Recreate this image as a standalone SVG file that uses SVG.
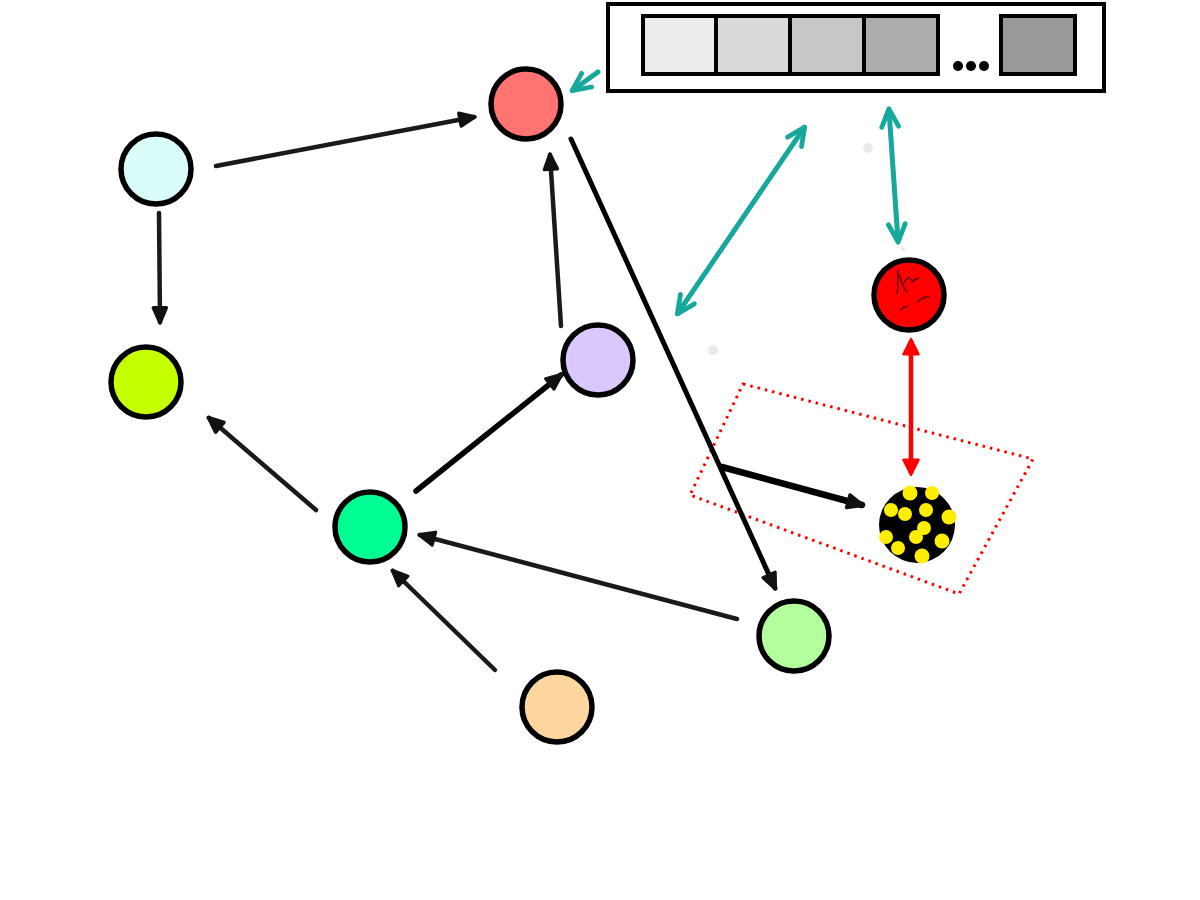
<svg xmlns="http://www.w3.org/2000/svg" width="1200" height="900" viewBox="0 0 1200 900">
<style>
.node{stroke:#000;stroke-width:5.5}
.e{stroke:#1a1a1a;stroke-width:4.5;fill:none;stroke-linecap:round}
.t{stroke:#16a89a;stroke-width:5;fill:none;stroke-linecap:round}
.r{stroke:#ff0000;stroke-width:4.5;fill:none}
.cell{stroke:#000;stroke-width:4}
.yd{fill:#ffee00}
</style>
<defs>
<marker id="ab" markerUnits="userSpaceOnUse" markerWidth="22" markerHeight="22" viewBox="0 0 20 20" refX="16" refY="10" orient="auto-start-reverse">
<path d="M3,4 L17,10 L3,16 Z" fill="#111" stroke="#111" stroke-width="3" stroke-linejoin="round"/>
</marker>
<marker id="at" markerUnits="userSpaceOnUse" markerWidth="24" markerHeight="24" viewBox="0 0 20 20" refX="17" refY="10" orient="auto-start-reverse">
<path d="M3,3 L18,10 L3,17" fill="none" stroke="#16a89a" stroke-width="4" stroke-linecap="round" stroke-linejoin="round"/>
</marker>
<marker id="ar" markerUnits="userSpaceOnUse" markerWidth="22" markerHeight="22" viewBox="0 0 20 20" refX="16" refY="10" orient="auto-start-reverse">
<path d="M3,3 L17,10 L3,17 Z" fill="#ff0000" stroke="#ff0000" stroke-width="2" stroke-linejoin="round"/>
</marker>
</defs>
<rect width="1200" height="900" fill="#fff"/>
<g id="buffer">
<rect x="608" y="4" width="496" height="87" fill="#fff" stroke="#000" stroke-width="4"/>
<rect class="cell" x="643" y="16" width="73" height="58" fill="#ececec"/>
<rect class="cell" x="716" y="16" width="74" height="58" fill="#dadada"/>
<rect class="cell" x="790" y="16" width="74" height="58" fill="#c8c8c8"/>
<rect class="cell" x="864" y="16" width="74" height="58" fill="#adadad"/>
<rect class="cell" x="1001" y="16" width="74" height="58" fill="#999"/>
<circle cx="958" cy="66" r="5"/>
<circle cx="971" cy="66" r="5"/>
<circle cx="984" cy="66" r="5"/>
</g>
<g id="group-box">
<polygon points="743,384 1033,459 959,594 690,495" fill="none" stroke="#ff0000" stroke-width="3" stroke-dasharray="2.5,5"/>
</g>
<g id="faint">
<circle cx="868" cy="148" r="5" fill="#eaeaea"/>
<circle cx="713" cy="350" r="5" fill="#eaeaea"/>
<circle cx="903" cy="249" r="2" fill="#d6f0ee"/>
</g>
<g id="connectors">
<line class="e" x1="216" y1="166" x2="474" y2="117" marker-end="url(#ab)"/>
<line class="e" x1="159" y1="213" x2="160" y2="322" marker-end="url(#ab)"/>
<line class="e" x1="561" y1="326" x2="550" y2="155" marker-end="url(#ab)"/>
<line class="e" x1="571" y1="139" x2="775" y2="588" marker-end="url(#ab)" style="stroke:#000;stroke-width:5"/>
<line class="e" x1="416" y1="491" x2="561" y2="375" marker-end="url(#ab)" style="stroke:#000;stroke-width:5.5"/>
<line class="e" x1="316" y1="510" x2="209" y2="418" marker-end="url(#ab)"/>
<line class="e" x1="737" y1="619" x2="420" y2="535" marker-end="url(#ab)"/>
<line class="e" x1="495" y1="670" x2="393" y2="571" marker-end="url(#ab)"/>
<line class="e" x1="722" y1="467" x2="862" y2="505" marker-end="url(#ab)" style="stroke:#000;stroke-width:6.5"/>
<line class="t" x1="598" y1="72" x2="573" y2="90" marker-end="url(#at)"/>
<line class="t" x1="678" y1="313" x2="804" y2="128" marker-start="url(#at)" marker-end="url(#at)"/>
<line class="t" x1="889" y1="110" x2="898" y2="241" marker-start="url(#at)" marker-end="url(#at)"/>
<line class="r" x1="911" y1="340" x2="911" y2="474" marker-start="url(#ar)" marker-end="url(#ar)"/>
</g>
<g id="n-salmon"><circle class="node" cx="526" cy="104" r="35" fill="#ff7373"/></g>
<g id="n-cyan"><circle class="node" cx="156" cy="169" r="35" fill="#d9fcfa"/></g>
<g id="n-lime"><circle class="node" cx="146" cy="382" r="35" fill="#c6ff00"/></g>
<g id="n-lavender"><circle class="node" cx="598" cy="360" r="35" fill="#dac8fc"/></g>
<g id="n-green"><circle class="node" cx="370" cy="527" r="35" fill="#00ff92"/></g>
<g id="n-lightgreen"><circle class="node" cx="794" cy="636" r="35" fill="#b3ff9e"/></g>
<g id="n-peach"><circle class="node" cx="557" cy="707" r="35" fill="#fdd59e"/></g>
<g id="n-red">
<circle class="node" cx="909" cy="295" r="35" fill="#ff0000"/>
<path d="M897,293 C899,285 897,278 898,270 M898,272 C901,280 903,288 907,292 M904,283 C907,278 909,276 911,280 M912,283 C913,278 916,280 919,278 M901,310 C903,306 905,308 907,306 M918,302 C920,298 922,300 924,297 M925,298 C927,297 928,296 929,297" fill="none" stroke="#6a0000" stroke-width="1.6" stroke-linecap="round"/>
</g>
<g id="n-dots">
<circle cx="917" cy="525" r="38" fill="#000"/>
<circle class="yd" cx="910" cy="493" r="7.5"/>
<circle class="yd" cx="932" cy="493" r="7"/>
<circle class="yd" cx="891" cy="510" r="7"/>
<circle class="yd" cx="905" cy="514" r="7"/>
<circle class="yd" cx="926" cy="510" r="7"/>
<circle class="yd" cx="949" cy="517" r="7.5"/>
<circle class="yd" cx="924" cy="528" r="7"/>
<circle class="yd" cx="916" cy="537" r="7"/>
<circle class="yd" cx="886" cy="537" r="7"/>
<circle class="yd" cx="898" cy="548" r="7"/>
<circle class="yd" cx="942" cy="541" r="7.5"/>
<circle class="yd" cx="922" cy="556" r="7.5"/>
</g>
</svg>
